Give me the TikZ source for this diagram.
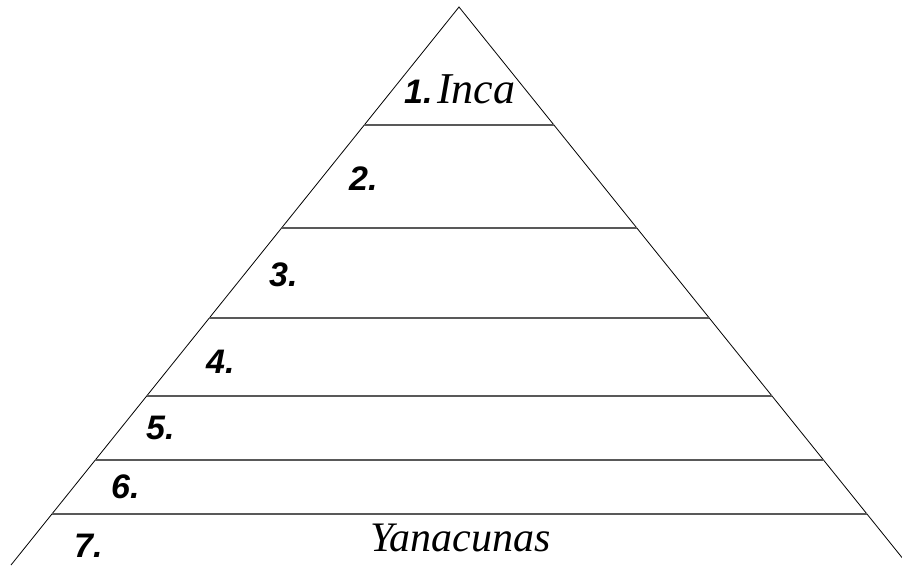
\documentclass[tikz,border=0pt]{standalone}
\usepackage{fontspec}
\setmainfont{Liberation Serif}
\newfontfamily\numfont{Liberation Sans}
\usetikzlibrary{calc}
\begin{document}
\begin{tikzpicture}[x=1pt,y=-1pt,
 side/.style={draw=black,line width=0.8pt},
 tier/.style={draw=black!65,line width=1.3pt},
 numlabel/.style={anchor=base west,inner sep=0pt,font=\numfont\bfseries\itshape\fontsize{34}{34}\selectfont},
 namelabel/.style={anchor=base west,inner sep=0pt,font=\itshape\fontsize{42}{42}\selectfont}]
\useasboundingbox (0,0) rectangle (902,565);
\coordinate (A) at (459,7);
\coordinate (L) at (11,565);
\coordinate (R) at (908,565);
\begin{scope}
\clip (0,0) rectangle (902,565);
\draw[side] (L) -- (A) -- (R);
\end{scope}
\foreach \t [count=\i] in {0.2115,0.3961,0.5573,0.6971,0.8118,0.9086}{
  \coordinate (l\i) at ($(A)!\t!(L)$);
  \coordinate (r\i) at ($(A)!\t!(R)$);
  \draw[tier] (l\i) -- (r\i);
}
\node[numlabel] (n1) at (404,103) {1.};
\node[namelabel,font=\itshape\fontsize{44}{44}\selectfont] (inca) at (437,103) {Inca};
\node[numlabel] (n2) at (349,190) {2.};
\node[numlabel] (n3) at (269,286) {3.};
\node[numlabel] (n4) at (206,373) {4.};
\node[numlabel] (n5) at (146,439) {5.};
\node[numlabel] (n6) at (111,498) {6.};
\node[numlabel] (n7) at (74,557) {7.};
\node[namelabel] (yana) at (370,551) {Yanacunas};
\end{tikzpicture}
\end{document}
